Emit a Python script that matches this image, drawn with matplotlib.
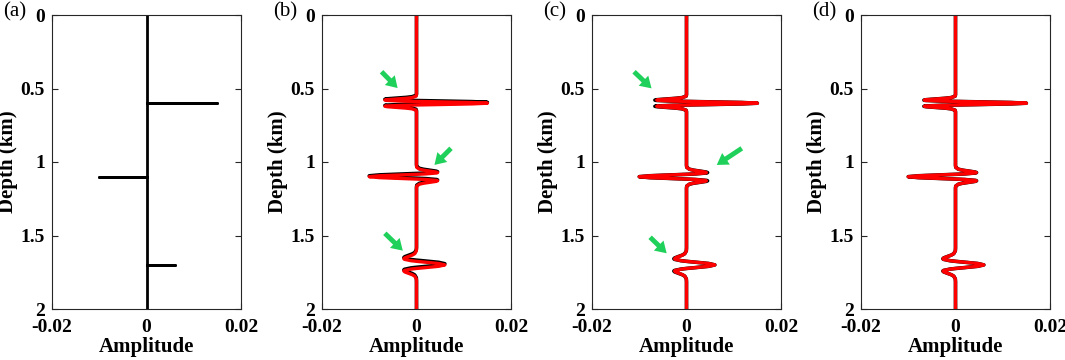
# Reflectivity and synthetic traces: true (black) vs. estimated (red)

import numpy as np
import matplotlib.pyplot as plt

plt.rcParams["font.family"] = ["Liberation Serif", "DejaVu Serif"]

# reflectivity spikes (panel a)
ref_depth = [0.6, 1.1, 1.7]
ref_amp = [0.015, -0.010, 0.006]

# side-lobe offset of the wavelet at each reflector (km), wavelet stretches with depth
lobe_offset = [0.021, 0.028, 0.042]

# wavelet shape, offset measured in units of the side-lobe offset
wav_offset = [0.0, 0.227, 0.455, 0.577, 0.682, 0.909, 1.0, 1.136, 1.364, 1.59, 1.82, 2.27, 2.73]
wav_true = [1.0, 0.782, 0.279, 0.0, -0.197, -0.428, -0.446, -0.414, -0.281, -0.148, -0.062, -0.006, 0.0]
wav_est_c = [1.0, 0.782, 0.279, 0.0, -0.188, -0.405, -0.420, -0.392, -0.266, -0.140, -0.059, -0.006, 0.0]
wav_est_d = [1.0, 0.782, 0.279, 0.0, -0.195, -0.424, -0.440, -0.409, -0.278, -0.146, -0.061, -0.006, 0.0]

# reflector depths seen by each trace
depth_true = [0.594, 1.094, 1.692]
depth_est_b = [0.6, 1.1, 1.7]
depth_est_c = [0.6, 1.1, 1.7]
depth_est_d = [0.6, 1.1, 1.7]

# green arrows: (tail x, tail y, head x, head y)
arrows_b = [(-0.0074, 0.386, -0.0040, 0.497),
            (0.0073, 0.907, 0.0038, 1.020),
            (-0.0067, 1.485, -0.0029, 1.603)]
arrows_c = [(-0.0111, 0.386, -0.0074, 0.499),
            (0.0117, 0.907, 0.0064, 1.020),
            (-0.0077, 1.512, -0.0042, 1.621)]

panel_labels = ["(a)", "(b)", "(c)", "(d)"]
panel_left_px = [52, 322, 592, 861]


def make_trace(depths, shape):
    off = np.array(wav_offset)
    shp = np.array(shape)
    full_off = np.concatenate([-off[::-1], off[1:]])
    full_shp = np.concatenate([shp[::-1], shp[1:]])
    z = [0.0]
    a = [0.0]
    for d, amp, w in zip(depths, ref_amp, lobe_offset):
        z.extend(d + full_off * w)
        a.extend(amp * full_shp)
    z.append(2.0)
    a.append(0.0)
    return np.array(a), np.array(z)


def reflectivity_line():
    z = [0.0]
    a = [0.0]
    for d, amp in zip(ref_depth, ref_amp):
        z += [d, d, d]
        a += [0.0, amp, 0.0]
    z.append(2.0)
    a.append(0.0)
    return a, z


fig = plt.figure(figsize=(10.65, 3.6), dpi=100)
W, H = 1065, 360
axes = []
for lp in panel_left_px:
    ax = fig.add_axes([lp / W, (360 - 309) / H, 189 / W, 294 / H])
    axes.append(ax)

ra, rz = reflectivity_line()
axes[0].plot(ra, rz, color="black", lw=2.0)

true_a, true_z = make_trace(depth_true, wav_true)
true_a_c, true_z_c = make_trace(depth_est_c, wav_true)
est_b = make_trace(depth_est_b, wav_true)
est_c = make_trace(depth_est_c, wav_est_c)
est_d = make_trace(depth_est_d, wav_est_d)

axes[1].plot(true_a, true_z, color="black", lw=2.6)
axes[1].plot(est_b[0], est_b[1], color="#ff0000", lw=2.4)
axes[2].plot(true_a_c, true_z_c, color="black", lw=2.6)
axes[2].plot(est_c[0], est_c[1], color="#ff0000", lw=2.4)
axes[3].plot(true_a_c, true_z_c, color="black", lw=2.6)
axes[3].plot(est_d[0], est_d[1], color="#ff0000", lw=2.4)

for ax, arrs in [(axes[1], arrows_b), (axes[2], arrows_c)]:
    for tx, ty, hx, hy in arrs:
        ax.annotate("", xy=(hx, hy), xytext=(tx, ty),
                    arrowprops=dict(facecolor="#1fd15a", edgecolor="none",
                                    width=3.5, headwidth=10, headlength=8))

for ax, lab in zip(axes, panel_labels):
    ax.set_xlim(-0.02, 0.02)
    ax.set_ylim(2, 0)
    ax.set_xticks([-0.02, 0, 0.02])
    ax.set_xticklabels(["-0.02", "0", "0.02"])
    ax.set_yticks([0, 0.5, 1, 1.5, 2])
    ax.set_yticklabels(["0", "0.5", "1", "1.5", "2"])
    ax.tick_params(direction="in", length=4, width=0.8, top=True, right=True,
                   labelsize=14, colors="#262626", labelcolor="black")
    ax.tick_params(axis="x", pad=7)
    ax.tick_params(axis="y", pad=5)
    for t in ax.get_xticklabels() + ax.get_yticklabels():
        t.set_fontweight("bold")
    for s in ax.spines.values():
        s.set_color("#262626")
        s.set_linewidth(0.8)
    ax.set_xlabel("Amplitude", fontsize=15, fontweight="bold", labelpad=1)
    ax.set_ylabel("Depth (km)", fontsize=15, fontweight="bold", labelpad=2)
    pos = ax.get_position()
    fig.text(pos.x0 - 49 / W, 1 - 12 / H, lab, fontsize=15, va="center", ha="left")

plt.savefig("out.png", dpi=100)
